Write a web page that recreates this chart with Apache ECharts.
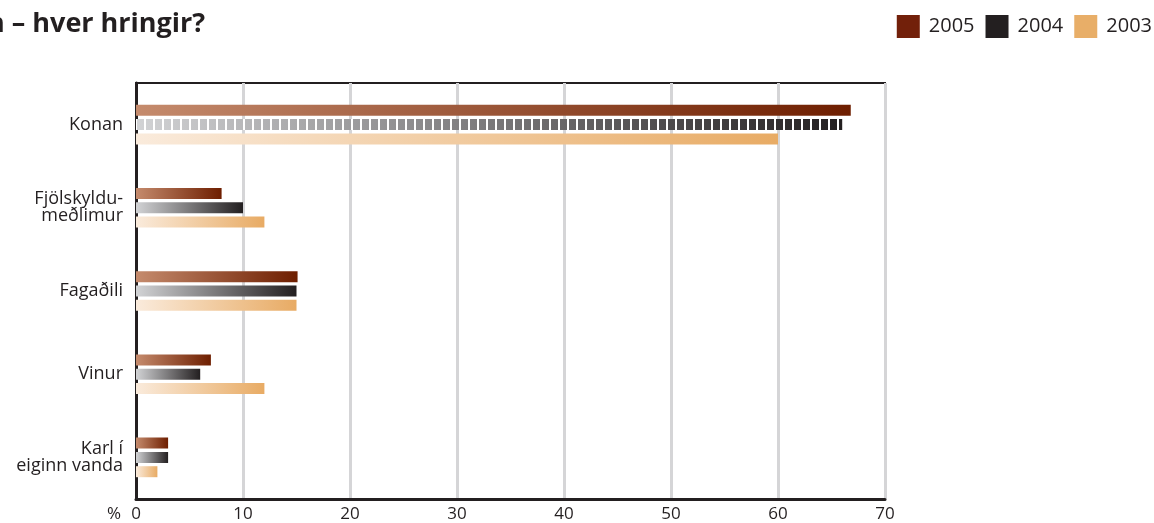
<!DOCTYPE html>
<html>
<head>
<meta charset="utf-8">
<script src="https://cdn.jsdelivr.net/npm/echarts@6/dist/echarts.min.js"></script>
<style>
html,body{margin:0;padding:0;background:#fff;}
#c{width:1154px;height:523px;}
</style>
</head>
<body>
<div id="c"></div>
<script>
const categories = ['Konan', 'Fjölskyldu-\nmeðlimur', 'Fagaðili', 'Vinur', 'Karl í\neiginn vanda'];
const years = ['2005', '2004', '2003'];
const values2005 = [66.8, 8, 15.1, 7, 3];
const values2004 = [66, 10, 15, 6, 3];
const values2003 = [60, 12, 15, 12, 2];
const xTicks = [0, 10, 20, 30, 40, 50, 60, 70];

const font = '"Open Sans", "Noto Sans", sans-serif';
const ink = '#231f20';

function grad(a, b) {
  return {type: 'linear', x: 0, y: 0, x2: 1, y2: 0,
    colorStops: [{offset: 0, color: a}, {offset: 1, color: b}]};
}
const fills = {
  '2005': grad('#c58b6d', '#6e1e00'),
  '2004': grad('#d2d3d5', '#231f20'),
  '2003': grad('#faebdc', '#e8ab64')
};
const legendColors = {'2005': '#72200a', '2004': '#231f20', '2003': '#e8ae68'};
const seriesValues = {'2005': values2005, '2004': values2004, '2003': values2003};

const chart = echarts.init(document.getElementById('c'), null, {renderer: 'canvas'});
chart.setOption({
  animation: false,
  title: {
    text: 'n – hver hringir?',
    left: -18, top: 6,
    textStyle: {fontFamily: font, fontWeight: 'bold', fontSize: 27, color: ink}
  },
  legend: {
    right: -3, top: 10,
    itemWidth: 23, itemHeight: 23, itemGap: 11,
    icon: 'rect',
    textStyle: {fontFamily: font, fontSize: 20, color: ink, padding: [0, 0, 0, 4]},
    data: years.map(y => ({name: y, itemStyle: {color: legendColors[y]}}))
  },
  grid: {
    left: 136, right: 269, top: 83, bottom: 23,
    show: true, borderColor: ink, borderWidth: 2, backgroundColor: 'transparent'
  },
  xAxis: {
    type: 'value', min: 0, max: 70, interval: 10,
    axisLine: {show: true, lineStyle: {color: ink, width: 3}},
    axisTick: {show: false},
    axisLabel: {fontFamily: font, fontSize: 17, color: ink, margin: 7,
      formatter: v => xTicks.includes(v) ? String(v) : ''},
    splitLine: {show: true, lineStyle: {color: '#d5d5d7', width: 3}}
  },
  yAxis: {
    type: 'category', inverse: true, data: categories,
    axisLine: {show: true, lineStyle: {color: ink, width: 3}},
    axisTick: {show: false},
    axisLabel: {fontFamily: font, fontSize: 18, color: ink, margin: 13, lineHeight: 17, align: 'right'}
  },
  graphic: [{
    type: 'text', left: 107, top: 506,
    style: {text: '%', font: '17px "Open Sans", "Noto Sans", sans-serif', fill: ink}
  }],
  series: years.map(y => ({
    name: y, type: 'bar', barWidth: 11, barGap: '30%',
    itemStyle: {color: fills[y]},
    data: seriesValues[y].map((v, i) => {
      if (y === '2004' && i === 0) {
        return {value: v, itemStyle: {color: fills[y], decal: {
          symbol: 'rect', symbolSize: 1, color: '#ffffff',
          dashArrayX: [2, 7], dashArrayY: [1, 0], rotation: 0
        }}};
      }
      return v;
    })
  }))
});
</script>
</body>
</html>
